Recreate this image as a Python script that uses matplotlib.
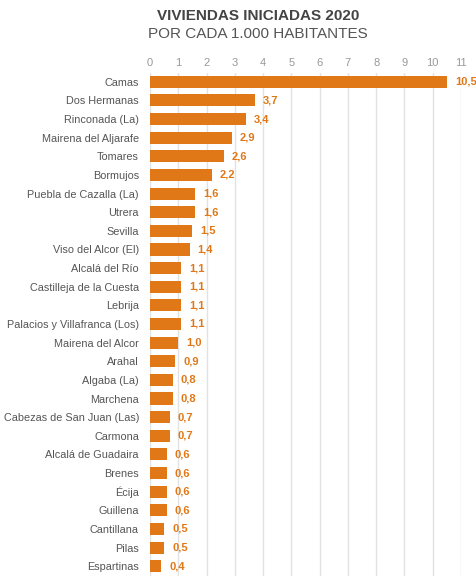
import matplotlib
matplotlib.use("Agg")
import matplotlib.pyplot as plt

plt.rcParams['font.family'] = ['Liberation Sans', 'DejaVu Sans']

municipios = ["Camas", "Dos Hermanas", "Rinconada (La)", "Mairena del Aljarafe", "Tomares",
              "Bormujos", "Puebla de Cazalla (La)", "Utrera", "Sevilla", "Viso del Alcor (El)",
              "Alcalá del Río", "Castilleja de la Cuesta", "Lebrija", "Palacios y Villafranca (Los)",
              "Mairena del Alcor", "Arahal", "Algaba (La)", "Marchena", "Cabezas de San Juan (Las)",
              "Carmona", "Alcalá de Guadaira", "Brenes", "Écija", "Guillena", "Cantillana",
              "Pilas", "Espartinas"]
valores = [10.5, 3.7, 3.4, 2.9, 2.6, 2.2, 1.6, 1.6, 1.5, 1.4, 1.1, 1.1, 1.1, 1.1, 1.0,
           0.9, 0.8, 0.8, 0.7, 0.7, 0.6, 0.6, 0.6, 0.6, 0.5, 0.5, 0.4]
ticks = list(range(0, 12))

W, H = 476, 576
fig = plt.figure(figsize=(W / 100, H / 100), dpi=100)
ax = fig.add_axes([150 / W, 1 - 575.5 / H, (461 - 150) / W, (575.5 - 72.5) / H])

orange = '#E07818'
y = list(range(len(municipios)))
ax.barh(y, valores, height=0.65, color=orange, zorder=3)
for yi, v in zip(y, valores):
    ax.text(v + 0.28, yi, f"{v:.1f}".replace('.', ','), va='center', ha='left',
            color=orange, fontsize=8, fontweight='bold', clip_on=False, zorder=4)

ax.set_xlim(0, 11)
ax.set_ylim(len(municipios) - 0.5, -0.5)
ax.set_yticks(y)
ax.set_yticklabels(municipios)
ax.set_xticks(ticks)
ax.set_xticklabels([str(t) for t in ticks])
ax.xaxis.tick_top()
ax.tick_params(axis='x', length=0, pad=3.5, labelsize=8, labelcolor='#999999')
ax.tick_params(axis='y', length=0, pad=8, labelsize=7.8, labelcolor='#555555')
for s in ax.spines.values():
    s.set_visible(False)
ax.grid(axis='x', color='#e2e2e2', linewidth=1, zorder=0)
ax.set_axisbelow(True)

fig.text(258 / W, 1 - 16 / H, "VIVIENDAS INICIADAS 2020", ha='center', va='center',
         fontsize=11, fontweight='bold', color='#444444')
fig.text(258 / W, 1 - 34 / H, "POR CADA 1.000 HABITANTES", ha='center', va='center',
         fontsize=11, color='#555555')

fig.savefig("out.png", dpi=100)
